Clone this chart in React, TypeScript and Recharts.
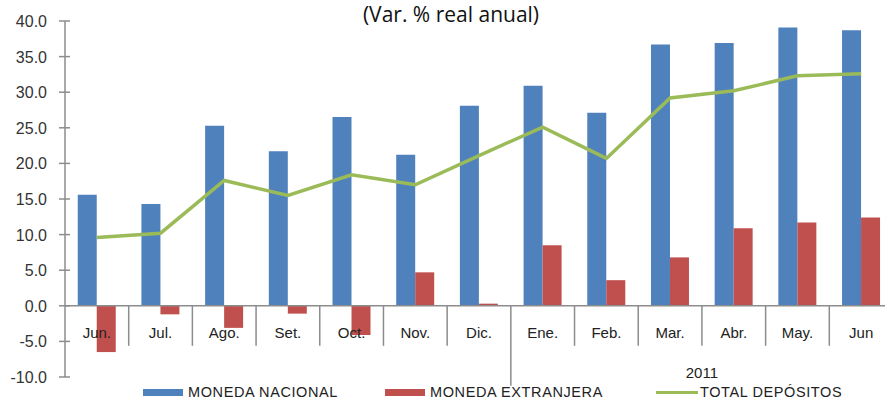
import React from 'react';
import { ComposedChart, Bar, Line, XAxis, YAxis, ReferenceLine } from 'recharts';

const months = ['Jun.', 'Jul.', 'Ago.', 'Set.', 'Oct.', 'Nov.', 'Dic.', 'Ene.', 'Feb.', 'Mar.', 'Abr.', 'May.', 'Jun'];
const monedaNacional = [15.6, 14.3, 25.3, 21.7, 26.5, 21.2, 28.1, 30.9, 27.1, 36.7, 36.9, 39.1, 38.7];
const monedaExtranjera = [-6.5, -1.2, -3.1, -1.1, -4.1, 4.7, 0.3, 8.5, 3.6, 6.8, 10.9, 11.7, 12.4];
const totalDepositos = [9.6, 10.2, 17.6, 15.5, 18.4, 17.0, 21.1, 25.1, 20.7, 29.2, 30.2, 32.3, 32.6];
const yTicks = [-10, -5, 0, 5, 10, 15, 20, 25, 30, 35, 40];
const yearLabel = '2011';
const yearStart = 7;

const data = months.map((mes, i) => ({
  mes,
  nacional: monedaNacional[i],
  extranjera: monedaExtranjera[i],
  total: totalDepositos[i],
}));

// layout
const CHART_W = 900;
const CHART_H = 401;
const PLOT_LEFT = 65;
const PLOT_RIGHT = 893;
const PLOT_TOP = 21;
const PLOT_BOTTOM = 377;
const X_AXIS_H = 20;
const BAND = (PLOT_RIGHT - PLOT_LEFT) / months.length;
const Y_MIN = yTicks[0];
const Y_MAX = yTicks[yTicks.length - 1];
const ZERO_Y = PLOT_TOP + ((PLOT_BOTTOM - PLOT_TOP) * Y_MAX) / (Y_MAX - Y_MIN);
const AXIS_COLOR = '#8c8c8c';
const FONT = '"Liberation Sans", Arial, sans-serif';

const MonthTick = (props: any) => {
  const { x, payload, index } = props;
  const left = x - BAND / 2;
  const yearMid = yearStart + (months.length - yearStart) / 2;
  return (
    <g>
      {index > 0 && (
        <line x1={left} x2={left} y1={ZERO_Y} y2={ZERO_Y + (index === yearStart ? 80 : 40)} stroke={AXIS_COLOR} strokeWidth={1.5} />
      )}
      <text x={x} y={ZERO_Y + 32} textAnchor="middle" fontSize={15} fill="#222" fontFamily={FONT}>
        {payload.value}
      </text>
      {index === yearMid && (
        <text x={left} y={ZERO_Y + 72} textAnchor="middle" fontSize={15} fill="#222" fontFamily={FONT}>
          {yearLabel}
        </text>
      )}
    </g>
  );
};

const ValueTick = (props: any) => {
  const { y, payload } = props;
  return (
    <g>
      <line x1={PLOT_LEFT - 6} x2={PLOT_LEFT + 5} y1={y} y2={y} stroke={AXIS_COLOR} strokeWidth={1.5} />
      <text x={47} y={y + 6} textAnchor="end" fontSize={16} fill="#333" fontFamily={FONT}>
        {payload.value.toFixed(1)}
      </text>
    </g>
  );
};

const legendItems = [
  { label: 'MONEDA NACIONAL', color: '#4F81BD', left: 143, type: 'rect' },
  { label: 'MONEDA EXTRANJERA', color: '#C0504D', left: 385, type: 'rect' },
  { label: 'TOTAL DEPÓSITOS', color: '#9BBB59', left: 656, type: 'line' },
];

const App = () => {
  return (
    <div style={{ position: 'absolute', left: 0, top: 0, width: 885, height: 401, overflow: 'hidden', background: '#fff' }}>
      <ComposedChart
        width={CHART_W}
        height={CHART_H}
        data={data}
        margin={{ top: PLOT_TOP, right: CHART_W - PLOT_RIGHT, bottom: CHART_H - PLOT_BOTTOM - X_AXIS_H, left: 0 }}
        barCategoryGap="20%"
        barGap={0}
      >
        <XAxis dataKey="mes" height={X_AXIS_H} axisLine={false} tickLine={false} interval={0} tick={<MonthTick />} />
        <YAxis
          width={PLOT_LEFT}
          domain={[Y_MIN, Y_MAX]}
          ticks={yTicks}
          interval={0}
          axisLine={{ stroke: AXIS_COLOR, strokeWidth: 1.5 }}
          tickLine={false}
          tick={<ValueTick />}
        />
        <Bar dataKey="nacional" fill="#4F81BD" isAnimationActive={false} />
        <Bar dataKey="extranjera" fill="#C0504D" isAnimationActive={false} />
        <ReferenceLine y={0} stroke={AXIS_COLOR} strokeWidth={1.5} />
        <Line type="linear" dataKey="total" stroke="#9BBB59" strokeWidth={3.5} dot={false} isAnimationActive={false} />
      </ComposedChart>

      <div
        style={{
          position: 'absolute',
          top: 2,
          left: 0,
          width: 902,
          textAlign: 'center',
          fontFamily: '"Open Sans", sans-serif',
          fontSize: 21,
          lineHeight: '24px',
          color: '#111',
        }}
      >
        (Var. % real anual)
      </div>

      {legendItems.map((item) => (
        <div
          key={item.label}
          style={{
            position: 'absolute',
            top: 385,
            left: item.left,
            height: 15,
            lineHeight: '15px',
            display: 'flex',
            alignItems: 'center',
            fontFamily: FONT,
            fontSize: 14.5,
            letterSpacing: 0.6,
            color: '#222',
            whiteSpace: 'nowrap',
          }}
        >
          <span
            style={{
              display: 'inline-block',
              width: item.type === 'rect' ? 40 : 42,
              height: item.type === 'rect' ? 7 : 3,
              background: item.color,
              marginRight: item.type === 'rect' ? 5 : 2,
            }}
          />
          <span>{item.label}</span>
        </div>
      ))}
    </div>
  );
};

export default App;
